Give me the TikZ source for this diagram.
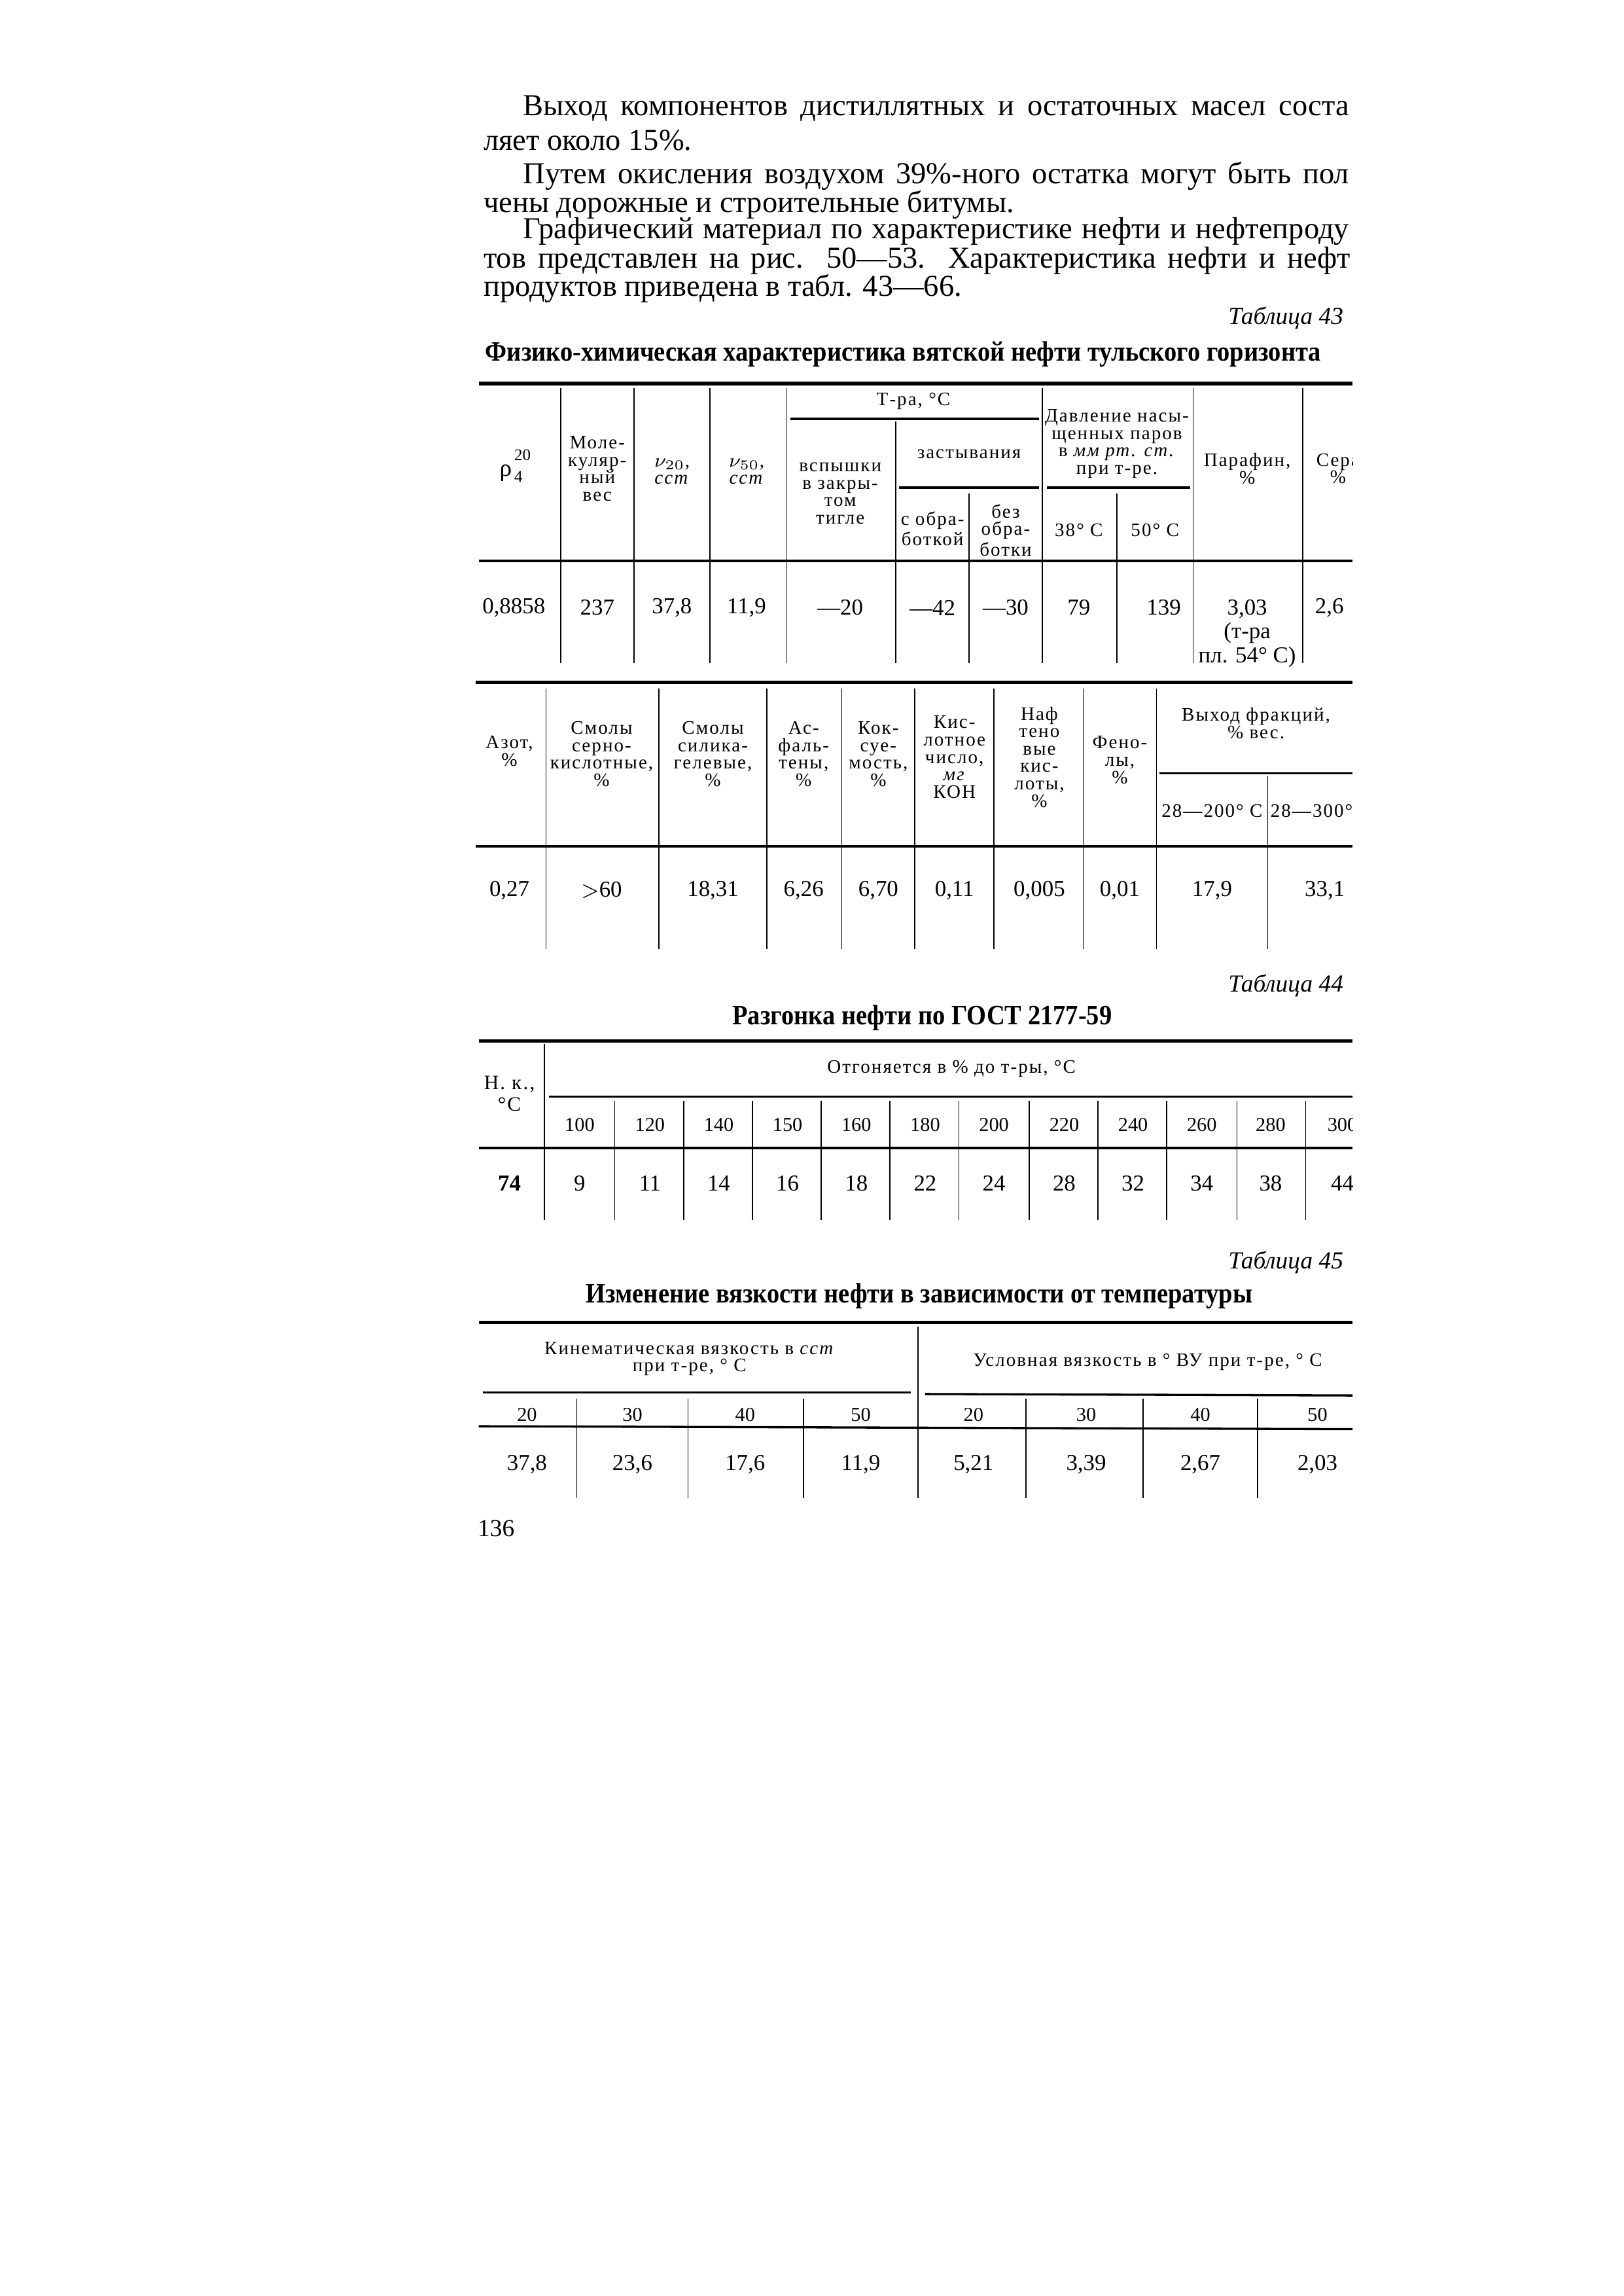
\documentclass[tikz,border=0pt]{standalone}
\usepackage{fontspec}
\setmainfont{Liberation Serif}
\newfontfamily\hdfont[LetterSpace=7]{Liberation Serif}
\newfontfamily\titlefont[FakeStretch=0.9]{Liberation Serif}
\newcommand{\jline}[2]{\makebox[#1][s]{#2}}

\begin{document}
\begin{tikzpicture}[x=0.018936cm, y=-0.018936cm,
  body/.style={anchor=west, inner sep=0pt, font=\fontsize{11.2}{12}\selectfont},
  tabcap/.style={anchor=east, inner sep=0pt, font=\fontsize{9}{10}\selectfont\itshape},
  ttl/.style={inner sep=0pt, font=\titlefont\fontsize{10.3}{11}\selectfont\bfseries},
  hd/.style={inner sep=0pt, align=center, font=\hdfont\fontsize{7}{6.4}\selectfont},
  subhd/.style={inner sep=0pt, font=\fontsize{7.3}{8}\selectfont},
  val/.style={inner sep=0pt, align=center, font=\fontsize{8.4}{8.8}\selectfont},
  toprule/.style={line width=1.3pt},
  midrule/.style={line width=0.8pt},
  col/.style={line width=0.4pt}]
 \path[fill=white] (0,0) rectangle (1109,1568);
 \begin{scope}
  \clip (0,0) rectangle (924,1568);
  % text of the page
  \node[body] (l1) at (357,74) {\jline{304pt}{Выход компонентов дистиллятных и остаточных масел соста}};
  \node[body] (l2) at (330,96) {ляет около 15\%.};
  \node[body] (l3) at (357,120) {\jline{304pt}{Путем окисления воздухом 39\%-ного остатка могут быть пол}};
  \node[body] (l4) at (330,140) {чены дорожные и строительные битумы.};
  \node[body] (l5) at (357,158) {\jline{304pt}{Графический материал по характеристике нефти и нефтепроду}};
  \node[body] (l6) at (330,178) {\jline{319pt}{тов представлен на рис. 50—53. Характеристика нефти и нефт}};
  \node[body] (l7) at (330,197) {продуктов приведена в табл. 43—66.};

  % table 43, first part
  \node[tabcap] (c43) at (918,217) {Таблица 43};
  \node[ttl] (t43) at (617,242) {Физико-химическая характеристика вятской нефти тульского горизонта};
  \draw[toprule] (327,262) -- (924,262);
  \draw[midrule] (540,286) -- (710,286);
  \draw[midrule] (614,333) -- (710,333);
  \draw[midrule] (715,333) -- (813,333);
  \draw[midrule] (327,383) -- (924,383);
  \foreach \x in {383,433,485,537,712,815,890} \draw[col] (\x,265) -- (\x,453);
  \draw[col] (612,288) -- (612,453);
  \foreach \x in {662,763} \draw[col] (\x,337) -- (\x,453);
  \node[inner sep=0pt, anchor=east, font=\fontsize{9}{9}\selectfont] (ro) at (350,323) {ρ};
  \node[inner sep=0pt, anchor=west, align=left, font=\fontsize{6}{8}\selectfont] (ro2) at (351,318) {20\\4};
  \node[hd] (mol) at (408,320) {Моле-\\куляр-\\ный\\вес};
  \node[hd] (nu20) at (459,322) {$\nu_{20}$,\\\textit{сст}};
  \node[hd] (nu50) at (510,322) {$\nu_{50}$,\\\textit{сст}};
  \node[hd] (tra) at (624,274) {Т-ра, °С};
  \node[hd] (vsp) at (574,337) {вспышки\\в закры-\\том\\тигле};
  \node[hd] (zast) at (662,310) {застывания};
  \node[hd] (sobr) at (637,361) {с обра-\\боткой};
  \node[hd] (bez) at (687,362) {без\\обра-\\ботки};
  \node[hd] (davl) at (763,303) {Давление насы-\\щенных паров\\в \textit{мм рт. ст.}\\при т-ре.};
  \node[hd] (p38) at (737,362) {38° С};
  \node[hd] (p50) at (789,362) {50° С};
  \node[hd] (par) at (852,320) {Парафин,\\\%};
  \node[hd] (sera) at (914,320) {Сера\\\%};
  \node[val] (dro) at (351,415) {0,8858};
  \node[val] (dmol) at (408,415) {237};
  \node[val] (dnu20) at (459,415) {37,8};
  \node[val] (dnu50) at (510,415) {11,9};
  \node[val] (dvsp) at (574,415) {—20};
  \node[val] (dsobr) at (637,415) {—42};
  \node[val] (dbez) at (687,415) {—30};
  \node[val] (dp38) at (737,415) {79};
  \node[val] (dp50) at (795,415) {139};
  \node[val, anchor=north] (dpar) at (852,409) {3,03\\(т-ра\\пл. 54° С)};
  \node[val, anchor=west] (dsera) at (898,415) {2,6};

  % table 43, second part
  \draw[toprule] (325,466) -- (924,466);
  \draw[midrule] (792,528) -- (924,528);
  \draw[midrule] (325,578) -- (924,578);
  \foreach \x in {373,450,524,575,625,679,740,790} \draw[col] (\x,470) -- (\x,648);
  \draw[col] (866,530) -- (866,648);
  \node[hd] (azot) at (348,513) {Азот,\\\%};
  \node[hd] (smsk) at (411,515) {Смолы\\серно-\\кислотные,\\\%};
  \node[hd] (smsg) at (487,515) {Смолы\\силика-\\гелевые,\\\%};
  \node[hd] (asf) at (549,515) {Ас-\\фаль-\\тены,\\\%};
  \node[hd] (koks) at (600,515) {Кок-\\суе-\\мость,\\\%};
  \node[hd] (kch) at (652,517) {Кис-\\лотное\\число,\\\textit{мг}\\КОН};
  \node[hd] (nafk) at (710,517) {Наф\\тено\\вые\\кис-\\лоты,\\\%};
  \node[hd] (fen) at (765,519) {Фено-\\лы,\\\%};
  \node[hd] (vyh) at (858,494) {Выход фракций,\\\% вес.};
  \node[hd] (f200) at (828,554) {28—200° С};
  \node[hd] (f300) at (896,554) {28—300°};
  \foreach \x/\v [count=\i] in {348/0{,}27, 411/$>$60, 487/18{,}31, 549/6{,}26, 600/6{,}70,
      652/0{,}11, 710/0{,}005, 765/0{,}01, 828/17{,}9, 905/33{,}1}
    \node[val] (b\i) at (\x,608) {\v};

  % table 44
  \node[tabcap] (c44) at (918,673) {Таблица 44};
  \node[ttl] (t44) at (630,695) {Разгонка нефти по ГОСТ 2177-59};
  \draw[toprule] (327,711) -- (924,711);
  \draw[midrule] (375,749) -- (924,749);
  \draw[midrule] (327,784) -- (924,784);
  \draw[col] (372,713) -- (372,833);
  \foreach \x in {420,467,514,561,608,655,703,750,797,845,892} \draw[col] (\x,752) -- (\x,833);
  \node[hd, font=\hdfont\fontsize{7.5}{8}\selectfont] (nk) at (348,747) {Н. к.,\\°С};
  \node[hd] (otg) at (650,730) {Отгоняется в \% до т-ры, °С};
  \node[val, font=\fontsize{8.4}{9}\selectfont\bfseries] (nk0) at (348,808) {74};
  \foreach \x/\t/\v [count=\i] in {396/100/9, 444/120/11, 491/140/14, 538/150/16, 585/160/18,
      632/180/22, 679/200/24, 727/220/28, 774/240/32, 821/260/34, 868/280/38, 917/300/44} {
    \node[subhd] (tk\i) at (\x,768) {\t};
    \node[val] (tv\i) at (\x,808) {\v};
  }

  % table 45
  \node[tabcap] (c45) at (918,862) {Таблица 45};
  \node[ttl] (t45) at (628,885) {Изменение вязкости нефти в зависимости от температуры};
  \draw[toprule] (327,903) -- (924,903);
  \draw[midrule] (330,951) -- (622,951);
  \draw[midrule] (632,952) -- (924,953);
  \draw[midrule] (327,974) -- (924,976);
  \draw[col] (627,906) -- (627,1023);
  \foreach \x in {394,470,549,701,781,859} \draw[col] (\x,955) -- (\x,1023);
  \node[hd] (kin) at (471,928) {Кинематическая вязкость в \textit{сст}\\при т-ре, ° С};
  \node[hd] (usl) at (784,930) {Условная вязкость в ° ВУ при т-ре, ° С};
  \foreach \x/\t/\v [count=\i] in {360/20/37{,}8, 432/30/23{,}6, 509/40/17{,}6, 588/50/11{,}9,
      665/20/5{,}21, 742/30/3{,}39, 820/40/2{,}67, 900/50/2{,}03} {
    \node[subhd] (vk\i) at (\x,966) {\t};
    \node[val] (vv\i) at (\x,1000) {\v};
  }

  \node[body, font=\fontsize{9}{10}\selectfont] (page) at (326,1044) {136};
 \end{scope}
\end{tikzpicture}
\end{document}
